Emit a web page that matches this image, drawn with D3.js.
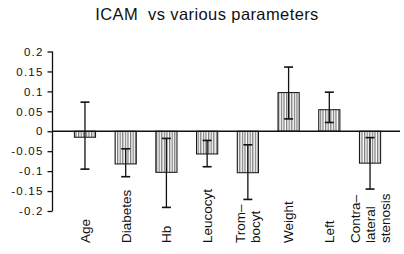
<!DOCTYPE html>
<html>
<head>
<meta charset="utf-8">
<script src="https://cdn.jsdelivr.net/npm/d3@7"></script>
<style>
  body { margin: 0; background: #fff; }
  svg { display: block; font-family: "Liberation Sans", Arial, sans-serif; }
</style>
</head>
<body>
<div class="container"></div>
<script>
// values
const categories = ["Age", "Diabetes", "Hb", "Leucocyt", "Trombocyt", "Weight", "Left", "Contralateral stenosis"];
const labelLines = [["Age"], ["Diabetes"], ["Hb"], ["Leucocyt"], ["Trom\u2013", "bocyt"], ["Weight"], ["Left"], ["Contra\u2013", "lateral", "stenosis"]];
const values  = [-0.015, -0.082, -0.103, -0.057, -0.104, 0.097, 0.054, -0.080];
const errLow  = [-0.095, -0.114, -0.191, -0.089, -0.171, 0.031, 0.022, -0.145];
const errHigh = [0.073, -0.044, -0.018, -0.023, -0.034, 0.161, 0.098, -0.016];
const yTicks  = [0.2, 0.15, 0.1, 0.05, 0, -0.05, -0.1, -0.15, -0.2];
const yTickLabels = ["0.2", "0.15", "0.1", "0.05", "0", "-0.05", "-0.1", "-0.15", "-0.2"];

const width = 404;
const height = 254;

const dataSet = categories.map((c, i) => ({
    name: c, lines: labelLines[i], value: values[i], lo: errLow[i], hi: errHigh[i]
}));

const svg = d3.select(".container").append("svg")
    .attr("width", width)
    .attr("height", height);

const defs = svg.append("defs");
const pat = defs.append("pattern")
    .attr("id", "hatch")
    .attr("patternUnits", "userSpaceOnUse")
    .attr("width", 2.6)
    .attr("height", 4);
pat.append("rect").attr("width", 2.6).attr("height", 4).attr("fill", "#fff");
pat.append("line")
    .attr("x1", 0.7).attr("x2", 0.7).attr("y1", 0).attr("y2", 4)
    .attr("stroke", "#222").attr("stroke-width", 0.8);

const xScale = d3.scaleBand()
    .domain(categories)
    .range([64.6, 390.4])
    .paddingInner(0.48)
    .paddingOuter(0.24);

const yScale = d3.scaleLinear()
    .domain([-0.2, 0.2])
    .range([211, 51.5]);

// title
svg.append("text")
    .attr("x", 207)
    .attr("y", 20)
    .attr("text-anchor", "middle")
    .attr("font-size", 16.5)
    .attr("letter-spacing", 0.4)
    .attr("fill", "#111")
    .style("white-space", "pre")
    .text("ICAM  vs various parameters");

// y axis
const yAxis = d3.axisLeft(yScale)
    .tickValues(yTicks)
    .tickSize(5)
    .tickPadding(4)
    .tickFormat((d, i) => yTickLabels[i]);

const gy = svg.append("g")
    .attr("id", "y-axis")
    .attr("transform", "translate(52.5,0)")
    .call(yAxis);
gy.select(".domain").attr("stroke", "#111").attr("stroke-width", 1.3).attr("d", `M0,${yScale(0.2)}V${yScale(-0.2)}`);
gy.selectAll(".tick line").attr("stroke", "#111").attr("stroke-width", 1.3);
gy.selectAll(".tick text")
    .attr("font-size", 11.5)
    .attr("letter-spacing", 1.2)
    .attr("fill", "#111")
    .attr("font-family", "\"Liberation Sans\", Arial, sans-serif");

// bars
svg.selectAll("rect.bar")
    .data(dataSet)
    .enter()
    .append("rect")
    .attr("class", "bar")
    .attr("x", d => xScale(d.name))
    .attr("width", xScale.bandwidth())
    .attr("y", d => yScale(Math.max(0, d.value)))
    .attr("height", d => Math.abs(yScale(d.value) - yScale(0)))
    .attr("fill", "url(#hatch)")
    .attr("stroke", "#111")
    .attr("stroke-width", 1);

// zero line
svg.append("line")
    .attr("x1", 52.5)
    .attr("x2", 400)
    .attr("y1", yScale(0))
    .attr("y2", yScale(0))
    .attr("stroke", "#111")
    .attr("stroke-width", 1.4);

// error bars
const cap = 4.5;
const err = svg.selectAll("g.err")
    .data(dataSet)
    .enter()
    .append("g")
    .attr("class", "err")
    .attr("transform", d => `translate(${xScale(d.name) + xScale.bandwidth() / 2},0)`);
err.append("line")
    .attr("y1", d => yScale(d.hi)).attr("y2", d => yScale(d.lo))
    .attr("stroke", "#111").attr("stroke-width", 1.3);
err.append("line")
    .attr("x1", -cap).attr("x2", cap)
    .attr("y1", d => yScale(d.hi)).attr("y2", d => yScale(d.hi))
    .attr("stroke", "#111").attr("stroke-width", 1.6);
err.append("line")
    .attr("x1", -cap).attr("x2", cap)
    .attr("y1", d => yScale(d.lo)).attr("y2", d => yScale(d.lo))
    .attr("stroke", "#111").attr("stroke-width", 1.6);

// category labels, rotated
const lineGap = 15;
const labels = svg.selectAll("g.lab")
    .data(dataSet)
    .enter()
    .append("g")
    .attr("class", "lab")
    .attr("transform", d => `translate(${xScale(d.name) + xScale.bandwidth() / 2},243) rotate(-90)`);
labels.each(function (d) {
    const n = d.lines.length;
    d3.select(this).selectAll("text")
        .data(d.lines)
        .enter()
        .append("text")
        .attr("x", 0)
        .attr("y", (l, j) => (j - (n - 1) / 2) * lineGap)
        .attr("dy", "0.36em")
        .attr("text-anchor", "start")
        .attr("font-size", 13.5)
        .attr("fill", "#111")
        .text(l => l);
});
</script>
</body>
</html>
